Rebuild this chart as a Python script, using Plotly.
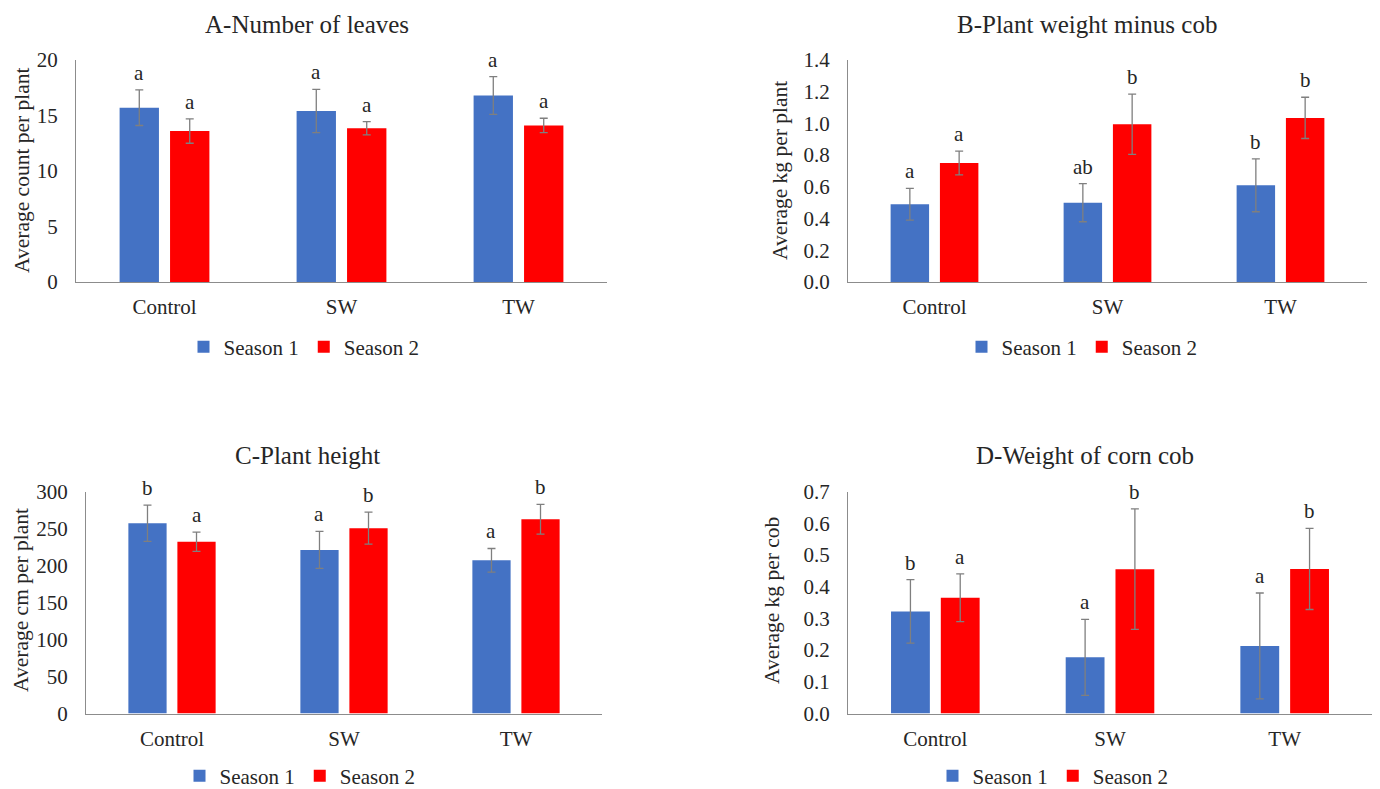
import plotly.graph_objects as go

W, H = 1380, 789

categories = ["Control", "SW", "TW"]
series_names = ["Season 1", "Season 2"]

# A - Number of leaves
leaves_s1 = [15.7, 15.4, 16.8]
leaves_s1_err = [1.6, 1.95, 1.7]
leaves_s2 = [13.6, 13.85, 14.1]
leaves_s2_err = [1.1, 0.6, 0.65]
leaves_s1_letters = ["a", "a", "a"]
leaves_s2_letters = ["a", "a", "a"]

# B - Plant weight minus cob
weight_s1 = [0.49, 0.50, 0.61]
weight_s1_err = [0.10, 0.12, 0.167]
weight_s2 = [0.75, 0.995, 1.035]
weight_s2_err = [0.075, 0.19, 0.13]
weight_s1_letters = ["a", "ab", "b"]
weight_s2_letters = ["a", "b", "b"]

# C - Plant height
height_s1 = [257, 221, 207]
height_s1_err = [24.5, 25, 16]
height_s2 = [232, 250.5, 262.5]
height_s2_err = [13, 21.5, 20]
height_s1_letters = ["b", "a", "a"]
height_s2_letters = ["a", "b", "b"]

# D - Weight of corn cob
cob_s1 = [0.322, 0.177, 0.213]
cob_s1_err = [0.10, 0.12, 0.167]
cob_s2 = [0.365, 0.455, 0.456]
cob_s2_err = [0.075, 0.19, 0.128]
cob_s1_letters = ["b", "a", "a"]
cob_s2_letters = ["a", "b", "b"]

titles = ["A-Number of leaves", "B-Plant weight minus cob", "C-Plant height", "D-Weight of corn cob"]
y_titles = ["Average count per plant", "Average kg per plant", "Average cm per plant", "Average kg per cob"]
y_ranges = [[0, 20], [0, 1.4], [0, 300], [0, 0.7]]
y_dticks = [5, 0.2, 50, 0.1]
y_formats = ["d", ".1f", "d", ".1f"]

panels = [
    (leaves_s1, leaves_s1_err, leaves_s2, leaves_s2_err, leaves_s1_letters, leaves_s2_letters),
    (weight_s1, weight_s1_err, weight_s2, weight_s2_err, weight_s1_letters, weight_s2_letters),
    (height_s1, height_s1_err, height_s2, height_s2_err, height_s1_letters, height_s2_letters),
    (cob_s1, cob_s1_err, cob_s2, cob_s2_err, cob_s1_letters, cob_s2_letters),
]

# layout geometry in pixels (x0, x1, ytop, ybottom)
px_boxes = [(76, 607, 60, 282), (848, 1367, 60, 282), (86, 602, 491.5, 713.5), (848, 1372, 491.5, 713.5)]
title_pos = [(307, 24), (1087, 24), (307, 455), (1085, 455)]
ytitle_pos = [(22, 170), (780, 170), (21, 600), (772, 600)]
legend_pos = [(304, 347), (1082, 347), (300, 776), (1053, 776)]

colors = ["#4472C4", "#FF0000"]
FONT = "Liberation Serif"
TXT = "#262626"
AXC = "#8c8c8c"
BARGAP = 0.43
GROUPGAP = 0.22

fig = go.Figure()
annotations = []
legend_keys = ["legend", "legend2", "legend3", "legend4"]

for i, (s1, e1, s2, e2, l1, l2) in enumerate(panels):
    ax = "" if i == 0 else str(i + 1)
    xref, yref = "x" + ax, "y" + ax
    for k, (vals, errs) in enumerate([(s1, e1), (s2, e2)]):
        fig.add_trace(go.Bar(
            x=categories, y=vals, name=series_names[k],
            marker=dict(color=colors[k], line=dict(width=0)),
            error_y=dict(type="data", array=errs, visible=True, color="#7f7f7f",
                         thickness=1.3, width=4),
            xaxis=xref, yaxis=yref, legend=legend_keys[i],
        ))
    x0, x1, yt, yb = px_boxes[i]
    cat_px = (x1 - x0) / len(categories)
    off = cat_px * (1 - BARGAP) / 4
    for k, (vals, errs, letters) in enumerate([(s1, e1, l1), (s2, e2, l2)]):
        for c, v, e, t in zip(categories, vals, errs, letters):
            annotations.append(dict(
                x=c, y=v + e, xref=xref, yref=yref, text=t, showarrow=False,
                xanchor="center", yanchor="bottom", yshift=3,
                xshift=-off if k == 0 else off,
                font=dict(family=FONT, size=21, color=TXT)))
    tx, ty = title_pos[i]
    annotations.append(dict(x=tx / W, y=1 - ty / H, xref="paper", yref="paper",
                            text=titles[i], showarrow=False, xanchor="center", yanchor="middle",
                            font=dict(family=FONT, size=25, color=TXT)))
    yx, yy = ytitle_pos[i]
    annotations.append(dict(x=yx / W, y=1 - yy / H, xref="paper", yref="paper",
                            text=y_titles[i], showarrow=False, textangle=-90,
                            xanchor="center", yanchor="middle",
                            font=dict(family=FONT, size=21.5, color=TXT)))
    dom_x = [x0 / W, x1 / W]
    dom_y = [1 - yb / H, 1 - yt / H]
    fig.update_layout(**{
        "xaxis" + ax: dict(domain=dom_x, anchor=yref, showline=True, linecolor=AXC, linewidth=1.3,
                           showgrid=False, ticks="", zeroline=False, automargin=False,
                           tickfont=dict(family=FONT, size=21, color=TXT), ticklabelstandoff=6),
        "yaxis" + ax: dict(domain=dom_y, anchor=xref, range=y_ranges[i], dtick=y_dticks[i],
                           tickformat=y_formats[i], showline=True, linecolor=AXC, linewidth=1.3,
                           showgrid=False, ticks="", zeroline=False, automargin=False,
                           tickfont=dict(family=FONT, size=21, color=TXT), ticklabelstandoff=13),
    })
    lx, ly = legend_pos[i]
    fig.update_layout(**{legend_keys[i]: dict(
        x=lx / W, y=1 - ly / H, xanchor="center", yanchor="middle", orientation="h",
        font=dict(family=FONT, size=21, color=TXT), bgcolor="rgba(0,0,0,0)",
        itemwidth=30, tracegroupgap=0)})

fig.update_layout(
    width=W, height=H, margin=dict(l=0, r=0, t=0, b=0, autoexpand=False),
    paper_bgcolor="white", plot_bgcolor="white",
    barmode="group", bargap=BARGAP, bargroupgap=GROUPGAP,
    annotations=annotations, showlegend=True,
)

fig.write_html("out.html", config={"displayModeBar": False},
               post_script="document.body.style.margin='0';document.body.style.overflow='hidden';")
